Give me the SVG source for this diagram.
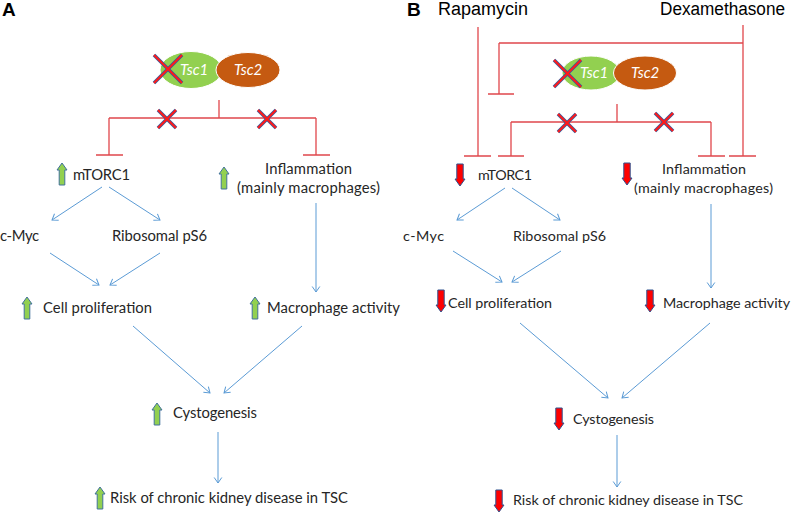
<svg xmlns="http://www.w3.org/2000/svg" width="795" height="512" viewBox="0 0 795 512">
<style>
.t{font-family:Lato,"Liberation Sans",sans-serif;font-size:14.8px;fill:#262626}
.tb{font-family:Lato,"Liberation Sans",sans-serif;font-size:14.3px;fill:#262626}
.big{font-family:"Liberation Sans",Arial,sans-serif;font-size:18px;fill:#000}
.lbl{font-family:"Liberation Sans",Arial,sans-serif;font-size:19px;font-weight:bold;fill:#000}
.ts{font-family:Lato,"Liberation Sans",sans-serif;font-size:15px;font-style:italic;fill:#fff}
.inh{fill:none;stroke:#E0474C;stroke-width:1.3}
.act{fill:none;stroke:#5B9BD5;stroke-width:1;marker-end:url(#ah)}
.xb{stroke:#3A5A9A;stroke-width:3.6;stroke-linecap:butt}
.xr{stroke:#FF1A1A;stroke-width:2}
.up{fill:#92D050;stroke:#41719C;stroke-width:1}
.dn{fill:#FF0000;stroke:#2F528F;stroke-width:1}
</style>
<defs>
<marker id="ah" markerUnits="userSpaceOnUse" markerWidth="12" markerHeight="12" refX="0" refY="0" viewBox="-7 -6 8 12" orient="auto">
<path d="M-5.5,-3.8 L0,0 L-5.5,3.8" fill="none" stroke="#5B9BD5" stroke-width="1"/>
</marker>
<path id="upA" d="M5,0 L10,7 L7.8,7 L7.8,22 L2.2,22 L2.2,7 L0,7 Z"/>
<path id="dnA" d="M1.8,0 L8.2,0 L8.2,15 L10,15 L5,22 L0,15 L1.8,15 Z"/>
</defs>
<rect width="795" height="512" fill="#fff"/>

<!-- Panel labels -->
<text class="lbl" x="2" y="16">A</text>
<text class="lbl" x="407" y="16">B</text>

<!-- Panel A -->
<g id="a-tsc">
<ellipse cx="191" cy="70" rx="31" ry="18.5" fill="#92D050" stroke="#fff" stroke-width="1"/>
<ellipse cx="248" cy="70" rx="32" ry="17.5" fill="#C55A11" stroke="#fff" stroke-width="1"/>
<text class="ts" x="180" y="75">Tsc1</text>
<text class="ts" x="234" y="75">Tsc2</text>
<line class="xb" x1="154" y1="55" x2="182" y2="83"/><line class="xb" x1="182" y1="55" x2="154" y2="83"/>
<line class="xr" x1="154" y1="55" x2="182" y2="83"/><line class="xr" x1="182" y1="55" x2="154" y2="83"/>
</g>
<g id="a-mtorc1"><use href="#upA" class="up" x="57" y="163"/><text class="t" x="73" y="180" textLength="57">mTORC1</text></g>
<g id="a-infl"><use href="#upA" class="up" x="219" y="167"/><text class="t" x="265" y="174" textLength="87">Inflammation</text><text class="t" x="237" y="193" textLength="143">(mainly macrophages)</text></g>
<g id="a-cmyc"><text class="t" x="0" y="241" textLength="39">c-Myc</text></g>
<g id="a-rps6"><text class="t" x="112" y="241" textLength="95">Ribosomal pS6</text></g>
<g id="a-cell"><use href="#upA" class="up" x="22" y="297"/><text class="t" x="43" y="313" textLength="109">Cell proliferation</text></g>
<g id="a-macro"><use href="#upA" class="up" x="250" y="297"/><text class="t" x="267" y="313" textLength="133">Macrophage activity</text></g>
<g id="a-cyst"><use href="#upA" class="up" x="152" y="403"/><text class="t" x="173" y="418" textLength="84">Cystogenesis</text></g>
<g id="a-risk"><use href="#upA" class="up" x="95" y="487"/><text class="t" x="110" y="503" textLength="238">Risk of chronic kidney disease in TSC</text></g>

<!-- Panel B -->
<g id="b-rapa"><text class="big" x="438" y="15">Rapamycin</text></g>
<g id="b-dexa"><text class="big" x="660" y="15" textLength="125" lengthAdjust="spacingAndGlyphs">Dexamethasone</text></g>
<g id="b-tsc">
<ellipse cx="591" cy="73" rx="29" ry="17" fill="#92D050" stroke="#fff" stroke-width="1"/>
<ellipse cx="645" cy="73" rx="31.5" ry="17" fill="#C55A11" stroke="#fff" stroke-width="1"/>
<text class="ts" x="580" y="78">Tsc1</text>
<text class="ts" x="631" y="78">Tsc2</text>
<line class="xb" x1="554" y1="60" x2="581" y2="87"/><line class="xb" x1="581" y1="60" x2="554" y2="87"/>
<line class="xr" x1="554" y1="60" x2="581" y2="87"/><line class="xr" x1="581" y1="60" x2="554" y2="87"/>
</g>
<g id="b-mtorc1"><use href="#dnA" class="dn" x="455" y="164"/><text class="tb" x="478" y="180" textLength="54">mTORC1</text></g>
<g id="b-infl"><use href="#dnA" class="dn" x="622" y="163"/><text class="tb" x="662" y="174" textLength="84">Inflammation</text><text class="tb" x="634" y="193" textLength="139">(mainly macrophages)</text></g>
<g id="b-cmyc"><text class="tb" x="403" y="241" textLength="41">c-Myc</text></g>
<g id="b-rps6"><text class="tb" x="513" y="241" textLength="93">Ribosomal pS6</text></g>
<g id="b-cell"><use href="#dnA" class="dn" x="436" y="290"/><text class="tb" x="448" y="308" textLength="104">Cell proliferation</text></g>
<g id="b-macro"><use href="#dnA" class="dn" x="645" y="290"/><text class="tb" x="663" y="308" textLength="127">Macrophage activity</text></g>
<g id="b-cyst"><use href="#dnA" class="dn" x="554" y="408"/><text class="tb" x="573" y="424" textLength="81">Cystogenesis</text></g>
<g id="b-risk"><use href="#dnA" class="dn" x="494" y="490"/><text class="tb" x="513" y="505" textLength="230">Risk of chronic kidney disease in TSC</text></g>

<g id="connectors">
<!-- A inhibitory -->
<path class="inh" d="M219,100 V118 M109,118 H316 M109,118 V155 M96,155 H123 M316,118 V155 M303,155 H330"/>
<!-- A X marks on branches -->
<line class="xb" x1="158" y1="110" x2="176" y2="128"/><line class="xb" x1="176" y1="110" x2="158" y2="128"/>
<line class="xr" x1="158" y1="110" x2="176" y2="128"/><line class="xr" x1="176" y1="110" x2="158" y2="128"/>
<line class="xb" x1="258" y1="110" x2="276" y2="128"/><line class="xb" x1="276" y1="110" x2="258" y2="128"/>
<line class="xr" x1="258" y1="110" x2="276" y2="128"/><line class="xr" x1="276" y1="110" x2="258" y2="128"/>
<!-- A activation -->
<line class="act" x1="102" y1="187" x2="52" y2="220"/>
<line class="act" x1="109" y1="187" x2="160" y2="220"/>
<line class="act" x1="316" y1="203" x2="316" y2="292"/>
<line class="act" x1="50" y1="253" x2="99" y2="285"/>
<line class="act" x1="160" y1="253" x2="110" y2="285"/>
<line class="act" x1="133" y1="326" x2="210" y2="393"/>
<line class="act" x1="302" y1="326" x2="224" y2="393"/>
<line class="act" x1="218" y1="432" x2="218" y2="483"/>

<!-- B inhibitory -->
<path class="inh" d="M478,27 V156 M464,156 H491 M743,25 V156 M729,156 H756 M499,43 H743 M499,43 V94 M488,94 H514"/>
<path class="inh" d="M617,104 V122 M511,122 H711 M511,122 V156 M498,156 H524 M711,122 V156 M698,156 H725"/>
<line class="xb" x1="558" y1="114" x2="576" y2="132"/><line class="xb" x1="576" y1="114" x2="558" y2="132"/>
<line class="xr" x1="558" y1="114" x2="576" y2="132"/><line class="xr" x1="576" y1="114" x2="558" y2="132"/>
<line class="xb" x1="655" y1="113" x2="673" y2="131"/><line class="xb" x1="673" y1="113" x2="655" y2="131"/>
<line class="xr" x1="655" y1="113" x2="673" y2="131"/><line class="xr" x1="673" y1="113" x2="655" y2="131"/>
<!-- B activation -->
<line class="act" x1="505" y1="188" x2="457" y2="220"/>
<line class="act" x1="512" y1="188" x2="560" y2="220"/>
<line class="act" x1="711" y1="204" x2="711" y2="288"/>
<line class="act" x1="453" y1="251" x2="502" y2="282"/>
<line class="act" x1="561" y1="251" x2="512" y2="282"/>
<line class="act" x1="520" y1="323" x2="608" y2="398"/>
<line class="act" x1="710" y1="323" x2="622" y2="398"/>
<line class="act" x1="617" y1="435" x2="617" y2="487"/>
</g>
</svg>
